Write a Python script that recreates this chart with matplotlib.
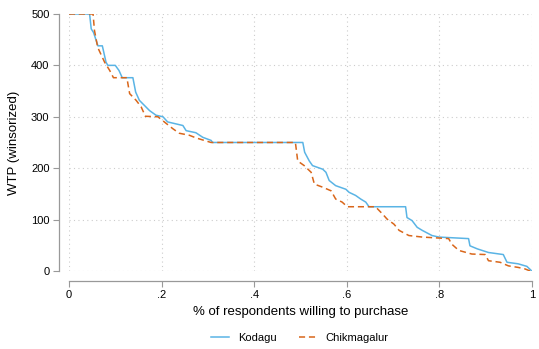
import matplotlib
matplotlib.use('Agg')
import matplotlib.pyplot as plt

# share of respondents willing to purchase vs WTP
kod_x = [0, 0.0445, 0.048, 0.053, 0.0625, 0.072, 0.080, 0.084, 0.100, 0.108, 0.115,
         0.138, 0.144, 0.152, 0.163, 0.174, 0.188, 0.203, 0.213, 0.246, 0.253, 0.274,
         0.289, 0.307, 0.310, 0.505, 0.509, 0.519, 0.526, 0.548, 0.555, 0.562, 0.576,
         0.598, 0.605, 0.619, 0.630, 0.641, 0.648, 0.727, 0.730, 0.741, 0.752, 0.763,
         0.784, 0.799, 0.863, 0.866, 0.882, 0.906, 0.938, 0.946, 0.970, 0.989, 0.9995]
kod_y = [500, 500, 471, 464, 438, 438, 406, 400, 400, 390, 376,
         376, 348, 332, 322, 312, 303, 300, 290, 283, 273, 269,
         260, 254, 250, 250, 231, 214, 205, 198, 192, 176, 166,
         159, 153, 147, 140, 134, 125, 125, 104, 98, 85, 79,
         69, 66, 63, 49, 43, 36, 32, 17, 14, 9, 0]

chik_x = [0, 0.052, 0.055, 0.062, 0.077, 0.088, 0.096, 0.125, 0.131, 0.145, 0.156,
          0.165, 0.192, 0.210, 0.224, 0.238, 0.260, 0.274, 0.292, 0.307, 0.489,
          0.494, 0.508, 0.523, 0.530, 0.548, 0.566, 0.576, 0.590, 0.601, 0.662,
          0.677, 0.687, 0.702, 0.713, 0.734, 0.763, 0.820, 0.827, 0.842, 0.870,
          0.899, 0.906, 0.931, 0.949, 0.970, 0.985, 0.996]
chik_y = [500, 500, 468, 435, 406, 390, 376, 376, 345, 332, 319,
          301, 300, 287, 277, 268, 264, 259, 254, 250, 250,
          214, 205, 192, 169, 163, 156, 140, 134, 125, 125,
          111, 101, 91, 79, 69, 66, 63, 52, 40, 33,
          32, 20, 17, 10, 7, 4, 0]

xticks = [0, 0.2, 0.4, 0.6, 0.8, 1]
xtick_labels = ['0', '.2', '.4', '.6', '.8', '1']
yticks = [0, 100, 200, 300, 400, 500]

plt.rcParams['font.family'] = ['Liberation Sans', 'DejaVu Sans']

fig = plt.figure(figsize=(5.39, 3.49), dpi=100)
ax = fig.add_axes([0.128, 0.2235, 0.859, 0.7365])

ax.plot(kod_x, kod_y, color='#5ab4e5', lw=1.1, label='Kodagu')
ax.plot(chik_x, chik_y, color='#d9661a', lw=1.1, ls=(0, (4, 2.5)), label='Chikmagalur')

ax.set_xlim(0, 1)
ax.set_ylim(0, 500)
ax.set_xticks(xticks)
ax.set_xticklabels(xtick_labels)
ax.set_yticks(yticks)
ax.grid(True, color='#cccccc', ls=(0, (1, 3)), lw=0.8)
ax.set_axisbelow(True)

for s in ['top', 'right']:
    ax.spines[s].set_visible(False)
for s in ['left', 'bottom']:
    ax.spines[s].set_position(('outward', 7))
    ax.spines[s].set_color('#999999')
    ax.spines[s].set_linewidth(0.9)
ax.tick_params(colors='#999999', labelcolor='black', labelsize=8, length=4, width=0.8, pad=3)

ax.set_xlabel('% of respondents willing to purchase', fontsize=9.5, labelpad=4)
ax.set_ylabel('WTP (winsorized)', fontsize=9.5, labelpad=8)

fig.legend(loc='center', bbox_to_anchor=(0.556, 0.032), ncol=2, frameon=False,
           fontsize=8, handlelength=1.6, handletextpad=0.8, columnspacing=2.0)

fig.savefig('out.png', dpi=100)
